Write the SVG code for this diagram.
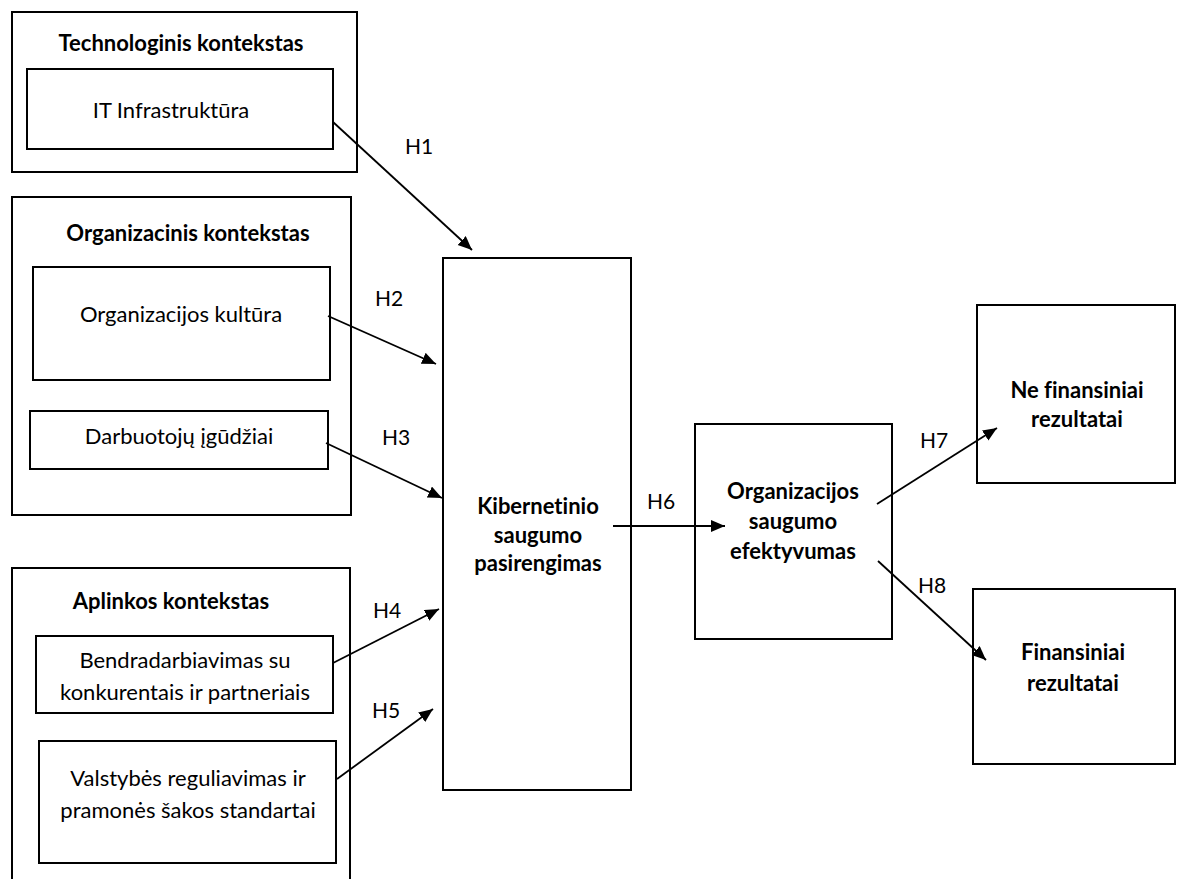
<svg xmlns="http://www.w3.org/2000/svg" width="1177" height="879" viewBox="0 0 1177 879">
<style>
.box{fill:none;stroke:#000;stroke-width:2}
.t{font-family:Lato,"Open Sans","Liberation Sans",sans-serif;font-size:22px;fill:#000;text-anchor:middle;font-variant-ligatures:none}
.b{font-weight:bold}
.lbl{font-family:Lato,"Open Sans","Liberation Sans",sans-serif;font-size:21px;fill:#000}
.c{stroke:#000;stroke-width:1.8;fill:none;marker-end:url(#ah)}
</style>
<defs>
<marker id="ah" markerUnits="userSpaceOnUse" markerWidth="16" markerHeight="14" refX="14" refY="6" orient="auto">
<path d="M0,0 L14,6 L0,12 Z" fill="#000"/>
</marker>
</defs>
<rect width="1177" height="879" fill="#fff"/>
<g id="tech">
<rect class="box" x="12" y="12" width="345" height="160"/>
<text class="t b" x="181" y="51">Technologinis kontekstas</text>
</g>
<g id="it">
<rect class="box" x="27" y="69" width="306" height="80"/>
<text class="t" x="171" y="118">IT Infrastruktūra</text>
</g>
<g id="org">
<rect class="box" x="12" y="197" width="339" height="318"/>
<text class="t b" x="188" y="241">Organizacinis kontekstas</text>
</g>
<g id="kult">
<rect class="box" x="33" y="267" width="297" height="113"/>
<text class="t" x="181" y="322">Organizacijos kultūra</text>
</g>
<g id="darb">
<rect class="box" x="30" y="411" width="298" height="58"/>
<text class="t" x="179" y="444">Darbuotojų įgūdžiai</text>
</g>
<g id="apl">
<rect class="box" x="12" y="568" width="338" height="330"/>
<text class="t b" x="171" y="609">Aplinkos kontekstas</text>
</g>
<g id="bendr">
<rect class="box" x="36" y="636" width="297" height="77"/>
<text class="t" x="185" y="668">Bendradarbiavimas su</text>
<text class="t" x="185" y="700">konkurentais ir partneriais</text>
</g>
<g id="valst">
<rect class="box" x="39" y="741" width="297" height="122"/>
<text class="t" x="188" y="786">Valstybės reguliavimas ir</text>
<text class="t" x="188" y="818">pramonės šakos standartai</text>
</g>
<g id="kib">
<rect class="box" x="443" y="258" width="188" height="532"/>
<text class="t b" x="538" y="514">Kibernetinio</text>
<text class="t b" x="538" y="543">saugumo</text>
<text class="t b" x="538" y="571">pasirengimas</text>
</g>
<g id="efekt">
<rect class="box" x="695" y="424" width="197" height="215"/>
<text class="t b" x="793" y="499">Organizacijos</text>
<text class="t b" x="793" y="529">saugumo</text>
<text class="t b" x="793" y="559">efektyvumas</text>
</g>
<g id="nefin">
<rect class="box" x="977" y="305" width="198" height="178"/>
<text class="t b" x="1077" y="398">Ne finansiniai</text>
<text class="t b" x="1077" y="427">rezultatai</text>
</g>
<g id="fin">
<rect class="box" x="973" y="589" width="202" height="175"/>
<text class="t b" x="1073" y="660">Finansiniai</text>
<text class="t b" x="1073" y="691">rezultatai</text>
</g>
<g id="connectors">
<line class="c" x1="333" y1="122" x2="472" y2="250"/>
<line class="c" x1="328" y1="316" x2="436" y2="364"/>
<line class="c" x1="326" y1="443" x2="442" y2="498"/>
<line class="c" x1="333" y1="663" x2="439" y2="609"/>
<line class="c" x1="337" y1="779" x2="433" y2="709"/>
<line class="c" x1="613" y1="526" x2="725" y2="526"/>
<line class="c" x1="877" y1="504" x2="997" y2="428"/>
<line class="c" x1="878" y1="561" x2="986" y2="660"/>
<text class="lbl" x="405" y="154">H1</text>
<text class="lbl" x="375" y="306">H2</text>
<text class="lbl" x="382" y="445">H3</text>
<text class="lbl" x="373" y="618">H4</text>
<text class="lbl" x="372" y="718">H5</text>
<text class="lbl" x="647" y="509">H6</text>
<text class="lbl" x="920" y="448">H7</text>
<text class="lbl" x="918" y="593">H8</text>
</g>
</svg>
